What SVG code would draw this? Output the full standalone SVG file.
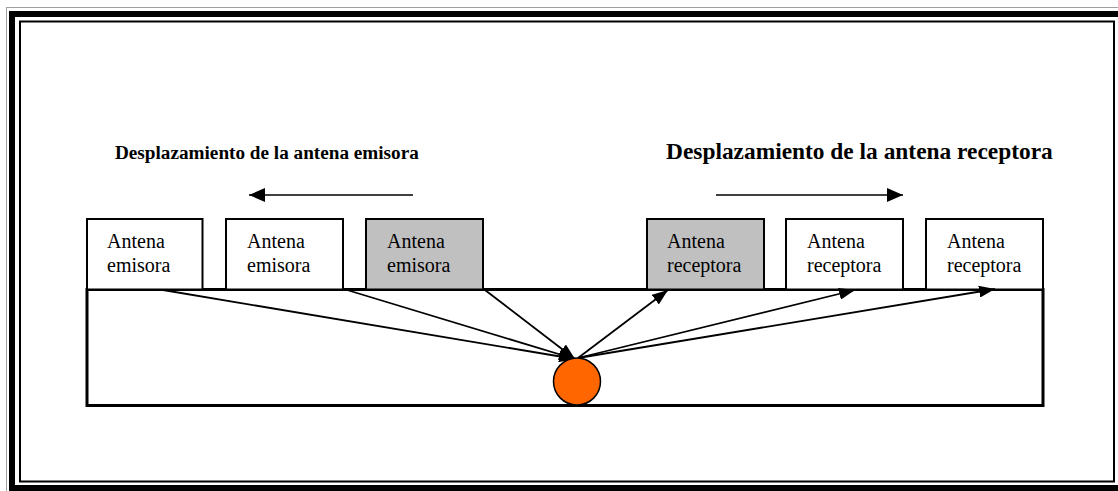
<svg xmlns="http://www.w3.org/2000/svg" width="1118" height="491" viewBox="0 0 1118 491">
  <style>
    .frame-thin { fill: none; stroke: #a0a0a0; stroke-width: 1; }
    .frame-thick { fill: none; stroke: #000; stroke-width: 6; }
    .frame-inner { fill: none; stroke: #000; stroke-width: 2; }
    .ground { fill: #fff; stroke: #000; stroke-width: 3; }
    .box { fill: #fff; stroke: #000; stroke-width: 2; }
    .box.active { fill: #c0c0c0; }
    .label { font-family: "Liberation Serif", "Times New Roman", serif; font-size: 20px; fill: #000; }
    .title { font-family: "Liberation Serif", "Times New Roman", serif; font-weight: bold; fill: #000; }
    .ray { stroke: #000; stroke-width: 1.8; fill: none; }
    .move { stroke: #000; stroke-width: 1.5; fill: none; }
  </style>
  <defs>
    <marker id="head" viewBox="0 0 16 12" refX="16" refY="6" markerWidth="16" markerHeight="12" markerUnits="userSpaceOnUse" orient="auto">
      <path d="M0,0 L16,6 L0,12 Z" fill="#000"/>
    </marker>
    <marker id="headSmall" viewBox="0 0 16 14" refX="16" refY="7" markerWidth="16" markerHeight="14" markerUnits="userSpaceOnUse" orient="auto">
      <path d="M0,0 L16,7 L0,14 Z" fill="#000"/>
    </marker>
  </defs>

  <rect width="1118" height="491" fill="#fff"/>

  <!-- page border: thick-thin double line -->
  <g id="border">
    <rect class="frame-thin" x="6.5" y="7.5" width="1130" height="500"/>
    <rect class="frame-thick" x="12" y="14" width="1110" height="474"/>
    <rect class="frame-inner" x="20" y="21.5" width="1094" height="460"/>
  </g>

  <!-- titles -->
  <text id="title-emisora" class="title" x="115" y="159" font-size="19.2">Desplazamiento de la antena emisora</text>
  <text id="title-receptora" class="title" x="666" y="159" font-size="23.4">Desplazamiento de la antena receptora</text>

  <!-- displacement arrows -->
  <g id="displacement">
    <line class="move" x1="413" y1="195" x2="249" y2="195" marker-end="url(#headSmall)"/>
    <line class="move" x1="716" y1="195" x2="903" y2="195" marker-end="url(#headSmall)"/>
  </g>

  <!-- ground -->
  <rect id="ground" class="ground" x="87" y="289.5" width="956" height="116"/>

  <!-- transmitter antenna positions -->
  <g id="emisora-1">
    <rect class="box" x="87" y="219" width="115.5" height="70.5"/>
    <text class="label" x="107" y="248">Antena</text>
    <text class="label" x="107" y="272">emisora</text>
  </g>
  <g id="emisora-2">
    <rect class="box" x="226" y="219" width="117" height="70.5"/>
    <text class="label" x="247" y="248">Antena</text>
    <text class="label" x="247" y="272">emisora</text>
  </g>
  <g id="emisora-3">
    <rect class="box active" x="366" y="219" width="117" height="70.5"/>
    <text class="label" x="387" y="248">Antena</text>
    <text class="label" x="387" y="272">emisora</text>
  </g>

  <!-- receiver antenna positions -->
  <g id="receptora-1">
    <rect class="box active" x="647" y="219" width="117" height="70.5"/>
    <text class="label" x="667" y="248">Antena</text>
    <text class="label" x="667" y="272">receptora</text>
  </g>
  <g id="receptora-2">
    <rect class="box" x="786" y="219" width="117" height="70.5"/>
    <text class="label" x="807" y="248">Antena</text>
    <text class="label" x="807" y="272">receptora</text>
  </g>
  <g id="receptora-3">
    <rect class="box" x="926" y="219" width="117" height="70.5"/>
    <text class="label" x="947" y="248">Antena</text>
    <text class="label" x="947" y="272">receptora</text>
  </g>

  <!-- ray paths -->
  <g id="rays">
    <line class="ray" x1="163" y1="290" x2="575" y2="359" marker-end="url(#head)"/>
    <line class="ray" x1="347" y1="290" x2="575" y2="359" marker-end="url(#head)"/>
    <line class="ray" x1="485" y1="290" x2="575" y2="359" marker-end="url(#head)"/>
    <line class="ray" x1="578" y1="358" x2="668" y2="290" marker-end="url(#head)"/>
    <line class="ray" x1="578" y1="358" x2="855" y2="290" marker-end="url(#head)"/>
    <line class="ray" x1="578" y1="358" x2="995" y2="289" marker-end="url(#head)"/>
  </g>

  <!-- buried target -->
  <circle id="target" cx="577" cy="381.5" r="23.5" fill="#ff6600" stroke="#000" stroke-width="1.5"/>
</svg>
